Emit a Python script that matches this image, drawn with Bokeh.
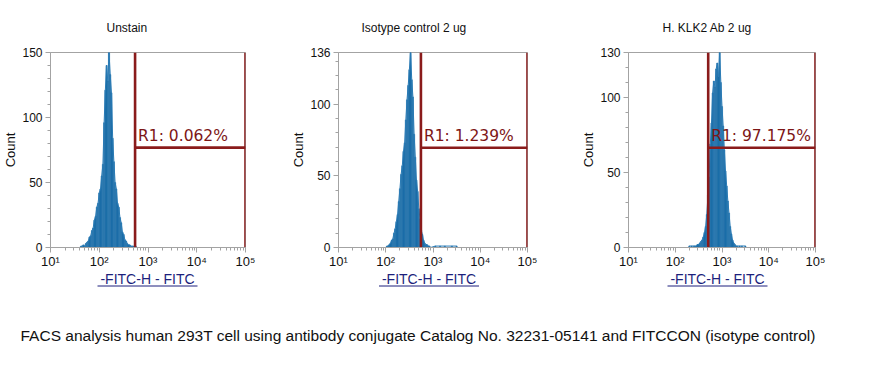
from bokeh.plotting import figure
from bokeh.layouts import row, column
from bokeh.models import Range1d, FixedTicker, ColumnDataSource
from bokeh.core.properties import value
from bokeh.embed import file_html
from bokeh.resources import INLINE

# ---------------- data ----------------
titles = ["Unstain", "Isotype control 2 ug", "H. KLK2 Ab 2 ug"]
y_max = [150, 136, 130]
y_major = [[0, 50, 100, 150], [0, 50, 100, 136], [0, 50, 100, 130]]
x_ticks = [10, 100, 1000, 10000, 100000]
x_tick_labels = ["10\u00b9", "10\u00b2", "10\u00b3", "10\u2074", "10\u2075"]
gate_lo = [543, 555, 507]
gate_hi = [100000, 100000, 100000]
gate_y = [76.8, 69.6, 66.5]
gate_text = ["R1: 0.062%", "R1: 1.239%", "R1: 97.175%"]
bin_half = 0.0125  # half width of a histogram channel, in decades

# log10 channel centres and counts
unstain_log = [1.600, 1.625, 1.650, 1.675, 1.700, 1.725, 1.750, 1.775, 1.800, 1.825,
               1.850, 1.875, 1.900, 1.925, 1.950, 1.975, 2.000, 2.025, 2.050, 2.075,
               2.100, 2.125, 2.150, 2.175, 2.200, 2.225, 2.250, 2.275, 2.300, 2.325,
               2.350, 2.375, 2.400, 2.425, 2.450, 2.475, 2.500, 2.525, 2.550, 2.575,
               2.600, 2.625, 2.650, 2.675, 2.700, 2.725, 2.750]
unstain_cnt = [0, 1, 1, 2, 1, 3, 4, 5, 8, 9,
               13, 15, 21, 24, 31, 34, 42, 45, 55, 64,
               96, 121, 140, 128, 150, 133, 119, 84, 66, 50,
               45, 34, 31, 23, 19, 12, 10, 6, 5, 3,
               2, 2, 1, 1, 1, 0, 1]

iso_log = [2.000, 2.025, 2.050, 2.075, 2.100, 2.125, 2.150, 2.175, 2.200, 2.225,
           2.250, 2.275, 2.300, 2.325, 2.350, 2.375, 2.400, 2.425, 2.450, 2.475,
           2.500, 2.525, 2.550, 2.575, 2.600, 2.625, 2.650, 2.675, 2.700, 2.725,
           2.750, 2.775, 2.800, 2.825, 2.850, 2.875, 2.900, 2.925, 2.950, 3.050,
           3.150, 3.250, 3.400, 3.500]
iso_cnt = [0, 1, 1, 2, 3, 5, 6, 10, 13, 18,
           23, 32, 41, 51, 57, 67, 73, 89, 103, 113,
           124, 136, 117, 105, 79, 63, 47, 39, 27, 20,
           12, 9, 5, 3, 2, 2, 1, 1, 0, 1,
           1, 1, 1, 1]

klk2_log = [2.300, 2.350, 2.400, 2.425, 2.450, 2.475, 2.500, 2.525, 2.550, 2.575,
            2.600, 2.625, 2.650, 2.675, 2.700, 2.725, 2.750, 2.775, 2.800, 2.825,
            2.850, 2.875, 2.900, 2.925, 2.950, 2.975, 3.000, 3.025, 3.050, 3.075,
            3.100, 3.125, 3.150, 3.175, 3.200, 3.225, 3.250, 3.275, 3.300, 3.325,
            3.375, 3.425, 3.500]
klk2_cnt = [1, 1, 1, 1, 1, 2, 2, 3, 4, 5,
            7, 10, 14, 22, 35, 47, 69, 83, 103, 111,
            107, 119, 123, 114, 130, 110, 94, 81, 65, 51,
            41, 31, 23, 14, 9, 5, 3, 2, 1, 1,
            1, 1, 1]

hist_log = [unstain_log, iso_log, klk2_log]
hist_cnt = [unstain_cnt, iso_cnt, klk2_cnt]

caption = ("FACS analysis human 293T cell using antibody conjugate Catalog No. "
           "32231-05141 and FITCCON (isotype control)")
x_label = "-FITC-H - FITC"

# ---------------- layout / style ----------------
fig_w = [288, 290, 316]
border_l = [49, 42, 41]
border_r = [43, 51, 79]
title_off = [56, 23, 34]
TOP_H = 271
BLUE = "#1d6ea9"
RED = "#8a1b1b"
GRAY = "#a3a3a3"
FONT = value("Liberation Sans")

figs = []
for i in range(3):
    p = figure(width=fig_w[i], height=TOP_H, x_axis_type="log",
               x_range=Range1d(10, 100000), y_range=Range1d(0, y_max[i]),
               output_backend="svg", toolbar_location=None,
               min_border_left=border_l[i], min_border_right=border_r[i],
               min_border_top=51, min_border_bottom=24)
    p.title.text = titles[i]
    p.title.align = "left"
    p.title.offset = title_off[i]
    p.title.text_font = "Liberation Sans"
    p.title.text_font_size = "12px"
    p.title.text_font_style = "normal"
    p.title.text_color = "#111111"
    p.title.standoff = 36
    p.xgrid.visible = False
    p.ygrid.visible = False
    p.outline_line_color = GRAY
    p.background_fill_color = "white"
    p.border_fill_color = "white"

    # histogram
    lo = [10 ** (c - bin_half) for c in hist_log[i]]
    hi = [10 ** (c + bin_half) for c in hist_log[i]]
    ctr = [10 ** c for c in hist_log[i]]
    src = ColumnDataSource(dict(left=lo, right=hi, top=hist_cnt[i], x=ctr))
    p.quad(left="left", right="right", bottom=0, top="top", source=src,
           fill_color=BLUE, line_color=BLUE, line_width=0.5)
    p.line(x="x", y="top", source=src, line_color="#2a7bb5", line_width=1)

    # gate R1
    gsrc = ColumnDataSource(dict(x0=[gate_lo[i], gate_hi[i], gate_lo[i]],
                                 y0=[0, 0, gate_y[i]],
                                 x1=[gate_lo[i], gate_hi[i], gate_hi[i]],
                                 y1=[y_max[i], y_max[i], gate_y[i]]))
    p.segment(x0="x0", y0="y0", x1="x1", y1="y1", source=gsrc,
              line_color=RED, line_width=2.6)
    p.text(x=[gate_lo[i]], y=[gate_y[i]], text=[gate_text[i]],
           x_offset=3, y_offset=-3, text_baseline="bottom", text_align="left",
           text_font=value("DejaVu Sans"), text_font_size="15.5px", text_color="#7d1616")

    # axes
    xa = p.xaxis[0]
    xa.ticker = FixedTicker(ticks=x_ticks,
                            minor_ticks=[m * d for d in [10, 100, 1000, 10000] for m in range(2, 10)])
    xa.major_label_overrides = {t: s for t, s in zip(x_ticks, x_tick_labels)}
    ya = p.yaxis[0]
    ya.ticker = FixedTicker(ticks=y_major[i],
                            minor_ticks=list(range(10, y_max[i], 10)))
    ya.axis_label = "Count"
    ya.axis_label_standoff = 1
    ya.axis_label_text_font = "Liberation Sans"
    ya.axis_label_text_font_size = "13px"
    ya.axis_label_text_font_style = "normal"
    ya.axis_label_text_color = "#111111"
    for ax in (xa, ya):
        ax.axis_line_color = GRAY
        ax.major_tick_line_color = GRAY
        ax.minor_tick_line_color = GRAY
        ax.major_tick_in = 0
        ax.major_tick_out = 5
        ax.minor_tick_in = 0
        ax.minor_tick_out = 3
        ax.major_label_text_font = "Liberation Sans"
        ax.major_label_text_font_size = "12px"
        ax.major_label_text_color = "#111111"
        ax.major_label_standoff = 3
    xa.major_label_text_font_size = "13px"
    xa.major_label_standoff = 1
    figs.append(p)

# bottom strip: underlined axis labels and caption (page pixel coordinates)
label_cx = [147, 428.5, 717]
b = figure(width=894, height=370 - TOP_H, x_range=Range1d(0, 894),
           y_range=Range1d(370, TOP_H),
           output_backend="svg", toolbar_location=None,
           min_border_left=0, min_border_right=0, min_border_top=0, min_border_bottom=0)
b.axis.visible = False
b.xgrid.visible = False
b.ygrid.visible = False
b.outline_line_color = None
b.text(x=label_cx, y=[278.5] * 3, text=[x_label] * 3, text_align="center",
       text_baseline="middle", text_font=FONT, text_font_size="14px", text_color="#1c1f7c")
b.segment(x0=[c - 50 for c in label_cx], y0=[285.5] * 3, x1=[c + 50 for c in label_cx],
          y1=[285.5] * 3, line_color="#1c1f7c", line_width=1)
b.text(x=[20], y=[335], text=[caption], text_align="left", text_baseline="middle",
       text_font=value("'Liberation Sans Narrow', 'Liberation Sans', Arial"),
       text_font_size="15.5px", text_color="#111111")

layout = column(row(*figs), b)
open("out.html", "w").write(file_html(layout, INLINE))
